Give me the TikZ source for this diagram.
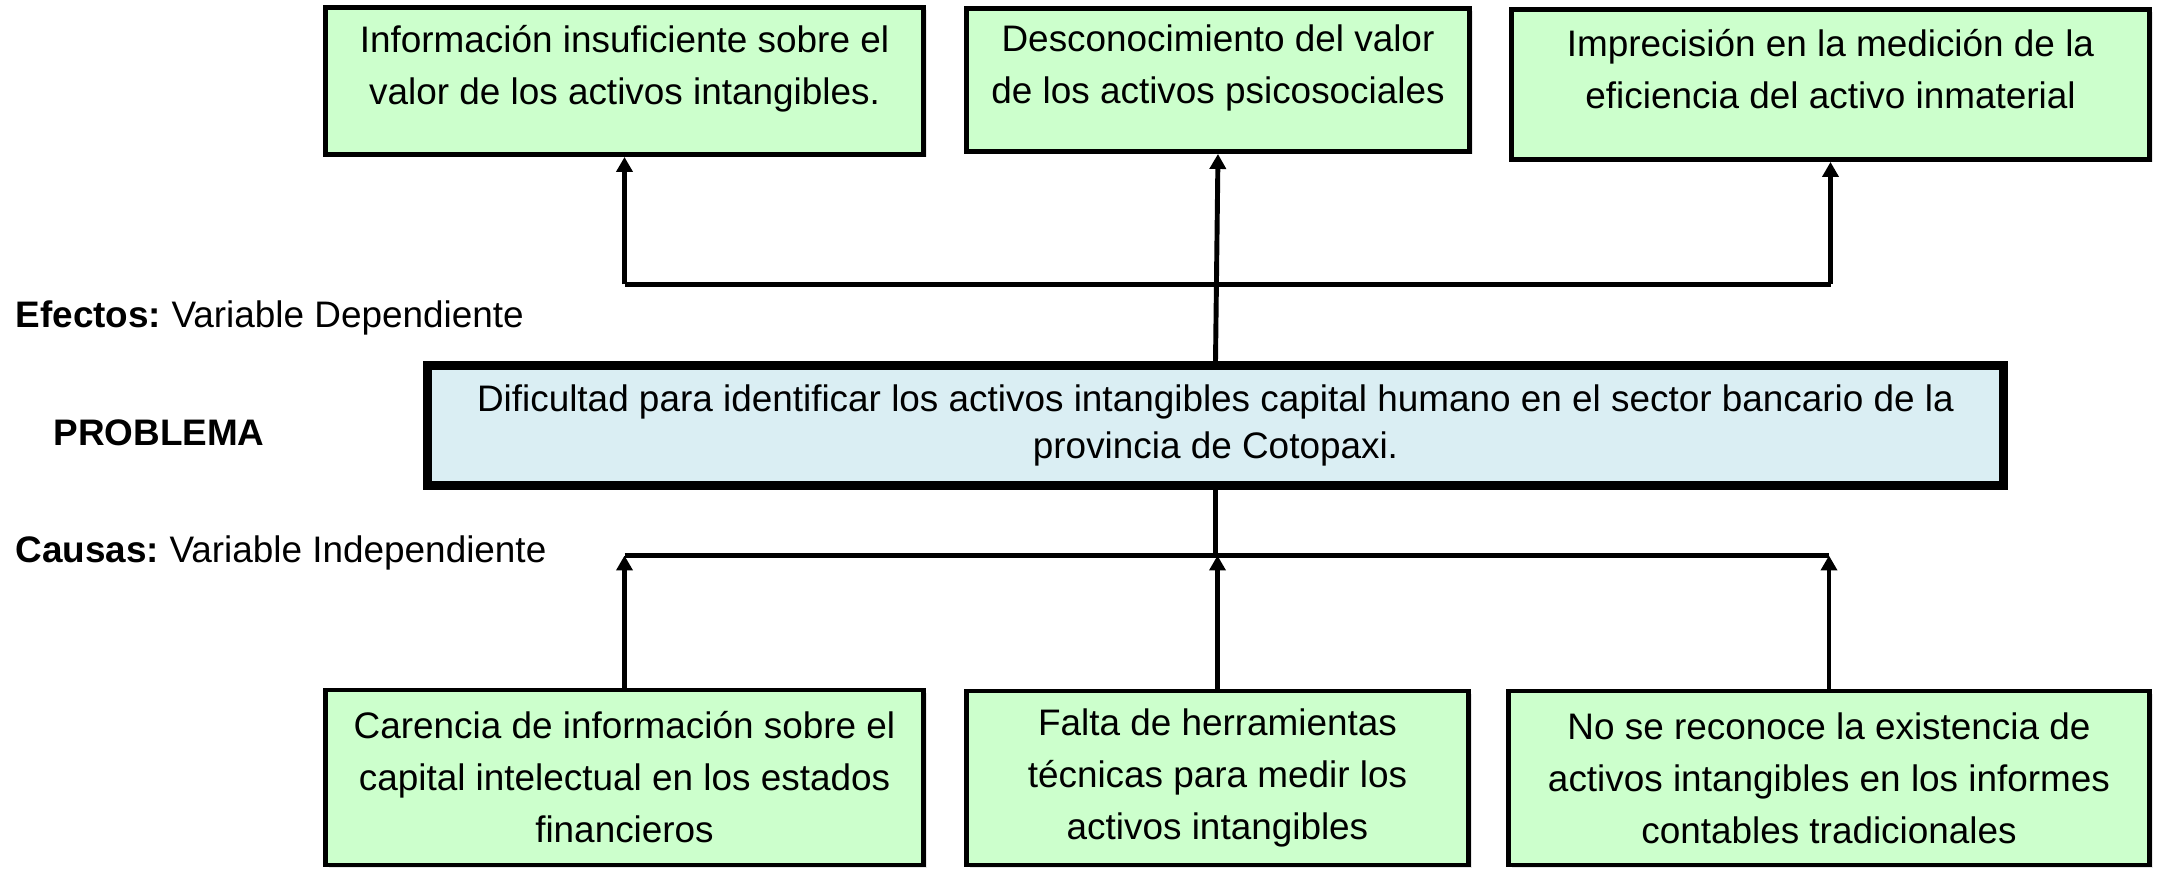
\documentclass[tikz,border=0pt]{standalone}
\usepackage{fontspec}
\setmainfont{Liberation Sans}
\usetikzlibrary{arrows.meta,shadows}
\definecolor{verdeclaro}{HTML}{CCFFCC}
\definecolor{celeste}{HTML}{DAEEF3}
\frenchspacing

\begin{document}
\begin{tikzpicture}
        \tikzset{caja/.style={draw,line width=1.4pt,fill=verdeclaro,align=center,
                font=\fontsize{10.5}{14.8}\selectfont,inner sep=0pt,
                drop shadow={shadow xshift=0.03cm,shadow yshift=-0.03cm,opacity=0.2}},
            efecto/.style={caja,text depth=0.32cm},
            problema/.style={caja,fill=celeste,line width=2.3pt,
                font=\fontsize{10.5}{13.4}\selectfont},
            rotulo/.style={font=\fontsize{10.5}{14.8}\selectfont,inner sep=0pt},
            flecha/.style={line width=1.4pt,-{Triangle[length=0.15cm,width=0.16cm]}},
            linea/.style={line width=1.4pt}}
        \useasboundingbox (0,0) rectangle (21.61,-8.69);
        % efectos
        \node[efecto,minimum width=5.98cm,minimum height=1.47cm] (e1) at (6.245,-0.81)
            {Información insuficiente sobre el\\valor de los activos intangibles.};
        \node[efecto,minimum width=5.03cm,minimum height=1.43cm] (e2) at (12.18,-0.80)
            {Desconocimiento del valor\\de los activos psicosociales};
        \node[efecto,minimum width=6.38cm,minimum height=1.50cm] (e3) at (18.305,-0.845)
            {Imprecisión en la medición de la\\eficiencia del activo inmaterial};
        % problema
        \node[problema,minimum width=15.76cm,minimum height=1.20cm] (prob) at (12.155,-4.255)
            {Dificultad para identificar los activos intangibles capital humano en el sector bancario de la\\provincia de Cotopaxi.};
        % causas
        \node[caja,minimum width=5.98cm,minimum height=1.75cm] (c1) at (6.245,-7.775)
            {Carencia de información sobre el\\capital intelectual en los estados\\financieros};
        \node[caja,minimum width=5.02cm,minimum height=1.74cm] (c2) at (12.175,-7.78)
            {Falta de herramientas\\técnicas para medir los\\activos intangibles};
        \node[caja,minimum width=6.41cm,minimum height=1.74cm] (c3) at (18.29,-7.78)
            {No se reconoce la existencia de\\activos intangibles en los informes\\contables tradicionales};
        % rotulos
        \node[rotulo,anchor=west] (lblE) at (0.15,-3.18) {\textbf{Efectos:} Variable Dependiente};
        \node[rotulo] (lblP) at (1.59,-4.33) {\textbf{PROBLEMA}};
        \node[rotulo,anchor=west] (lblC) at (0.15,-5.53) {\textbf{Causas:} Variable Independiente};
        % conectores
        \coordinate (ejeE) at (12.155,-2.845);
        \coordinate (ejeC) at (12.155,-5.555);
        \draw[linea] (ejeE -| e1.south) -- (ejeE -| e3.south);
        \draw[flecha] (ejeE -| e1.south) -- (e1.south);
        \draw[flecha] (ejeE -| e3.south) -- (e3.south);
        \draw[flecha] (prob.north) -- (e2.south);
        \draw[linea] (ejeC -| c1.north) -- (ejeC -| c3.north);
        \draw[linea] (prob.south) -- (ejeC -| prob.south);
        \foreach \c in {c1,c2,c3}
            \draw[flecha] (\c.north) -- (ejeC -| \c.north);
\end{tikzpicture}
\end{document}
